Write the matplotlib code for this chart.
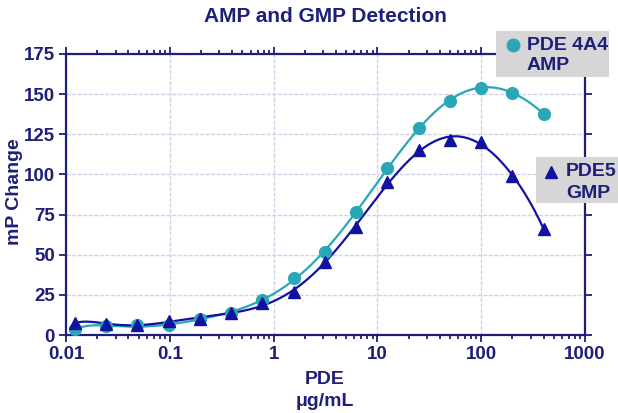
import numpy as np
import matplotlib
matplotlib.use('Agg')
import matplotlib.pyplot as plt
from matplotlib.patches import Rectangle
from matplotlib.lines import Line2D
from matplotlib.ticker import LogLocator, NullFormatter

plt.rcParams['font.family'] = ['Liberation Sans', 'DejaVu Sans']
plt.rcParams['font.weight'] = 'bold'

# PDE concentration (ug/mL), twofold dilutions
pde_conc = [0.0122, 0.0244, 0.0488, 0.0977, 0.195, 0.39, 0.78, 1.56,
            3.125, 6.25, 12.5, 25, 50, 100, 200, 400]
amp_mp = [3.5, 5.5, 6, 6, 10, 14, 22, 35.5, 51.5, 76.5, 104, 129, 146, 154, 151, 137.5]
gmp_mp = [7.5, 6.8, 6.5, 8.5, 10, 13.5, 20, 27, 45.5, 67.5, 95, 115, 121.5, 120, 99, 66]

xticks = [0.01, 0.1, 1, 10, 100, 1000]
xticklabels = ['0.01', '0.1', '1', '10', '100', '1000']
yticks = [0, 25, 50, 75, 100, 125, 150, 175]

navy = '#1f1f7a'
teal = '#2aa7b6'
blue = '#1212a0'
grid_c = '#d2d2e8'

W, H = 618.0, 413.0
fig = plt.figure(figsize=(6.18, 4.13), dpi=100)
ax = fig.add_axes([66/W, 1-335/H, (585-66)/W, (335-54)/H])

# smooth fitted curves (polynomial in log10 concentration)
lx = np.log10(pde_conc)
xs = np.linspace(lx[0], lx[-1], 300)
for ys, col in [(amp_mp, teal), (gmp_mp, blue)]:
    coef = np.polyfit(lx, ys, 8)
    ax.plot(10**xs, np.polyval(coef, xs), color=col, lw=1.6, zorder=3)

ax.plot(pde_conc, amp_mp, 'o', color=teal, ms=8.5, zorder=4)
ax.plot(pde_conc, gmp_mp, '^', color=blue, ms=8.5, zorder=5)

ax.set_xscale('log')
ax.set_xlim(0.01, 1000)
ax.set_ylim(0, 175)
ax.set_xticks(xticks)
ax.set_xticklabels(xticklabels)
ax.xaxis.set_minor_locator(LogLocator(base=10, subs=np.arange(2, 10)))
ax.xaxis.set_minor_formatter(NullFormatter())
ax.set_yticks(yticks)

ax.grid(True, which='major', color=grid_c, lw=1.0, ls=(0, (3, 1)))
ax.set_axisbelow(True)

for s in ax.spines.values():
    s.set_color(navy)
    s.set_linewidth(1.6)

ax.tick_params(which='both', direction='out', color=navy, labelcolor=navy,
               top=True, right=True, labelsize=13.5, width=1.3)
ax.tick_params(which='major', length=5, pad=3)
ax.tick_params(which='minor', length=3)
ax.tick_params(axis='y', which='minor', right=False, left=False)

fig.text(325/W, 1-17/H, 'AMP and GMP Detection', color=navy, fontsize=15,
         fontweight='bold', ha='center', va='center')
fig.text(15/W, 1-192/H, 'mP Change', color=navy, fontsize=14, fontweight='bold',
         rotation=90, ha='center', va='center')
fig.text(325/W, 1-379/H, 'PDE', color=navy, fontsize=14, fontweight='bold',
         ha='center', va='center')
fig.text(325/W, 1-401/H, '\u03bcg/mL', color=navy, fontsize=14, fontweight='bold',
         ha='center', va='center')

# legend boxes
def legend_box(x0, y0, x1, y1, mx, my, marker, mcol, tx, line1, line2, dy):
    fig.add_artist(Rectangle((x0/W, 1-y1/H), (x1-x0)/W, (y1-y0)/H,
                             transform=fig.transFigure, facecolor='#d6d6d6',
                             edgecolor='none', zorder=10))
    fig.add_artist(Line2D([mx/W], [1-my/H], marker=marker, color=mcol, ms=9,
                          transform=fig.transFigure, zorder=11))
    for i, t in enumerate([line1, line2]):
        fig.text(tx/W, 1-(my + i*dy)/H, t, color=navy, fontsize=14,
                 fontweight='bold', va='center', ha='left', zorder=12)

legend_box(496, 31, 609, 77, 513, 45, 'o', teal, 527, 'PDE 4A4', 'AMP', 21)
legend_box(536, 157, 618, 203, 551, 172, '^', blue, 566, 'PDE5', 'GMP', 21)

fig.savefig('out.png', dpi=100)
